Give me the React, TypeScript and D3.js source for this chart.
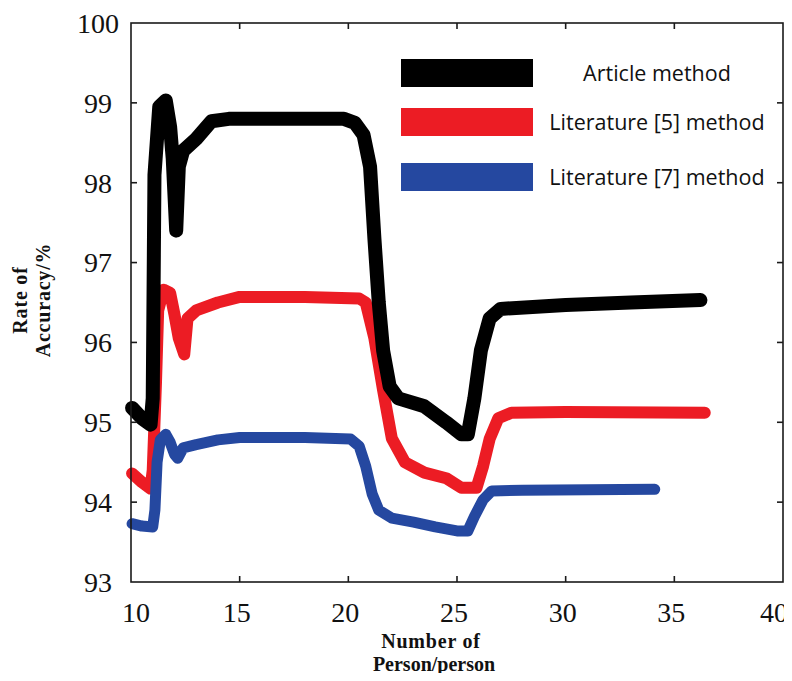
import React, { useEffect, useRef } from "react";
import * as d3 from "d3";

// values: [number of persons, accuracy %]
const articleMethod: [number, number][] = [
  [10.05, 95.18], [10.5, 95.05], [10.9, 94.97], [11.0, 95.3], [11.08, 98.1],
  [11.3, 98.95], [11.6, 99.03], [11.8, 98.7], [11.92, 98.3], [12.08, 97.4],
  [12.2, 98.2], [12.4, 98.4], [13.0, 98.55], [13.7, 98.77], [14.5, 98.8],
  [17.0, 98.8], [19.8, 98.8], [20.3, 98.75], [20.7, 98.6], [21.0, 98.2],
  [21.2, 97.3], [21.4, 96.5], [21.6, 95.9], [21.9, 95.45], [22.3, 95.3],
  [23.5, 95.2], [24.5, 95.0], [25.2, 94.85], [25.5, 94.85], [25.8, 95.3],
  [26.1, 95.9], [26.5, 96.3], [27.0, 96.42], [30.0, 96.47], [33.0, 96.5],
  [36.2, 96.53],
];

const literature5Method: [number, number][] = [
  [10.05, 94.36], [10.5, 94.25], [10.9, 94.17], [11.0, 94.4], [11.15, 95.5],
  [11.25, 96.4], [11.5, 96.66], [11.8, 96.62], [12.0, 96.35], [12.2, 96.05],
  [12.45, 95.85], [12.6, 96.3], [13.0, 96.4], [14.0, 96.5], [15.0, 96.57],
  [18.0, 96.57], [20.5, 96.55], [20.8, 96.5], [21.2, 96.05], [21.6, 95.4],
  [22.0, 94.8], [22.6, 94.5], [23.5, 94.37], [24.5, 94.3], [25.2, 94.18],
  [25.9, 94.18], [26.2, 94.45], [26.5, 94.79], [26.9, 95.05], [27.5, 95.12],
  [30.0, 95.13], [36.4, 95.12],
];

const literature7Method: [number, number][] = [
  [10.05, 93.73], [10.5, 93.7], [11.0, 93.69], [11.1, 93.9], [11.2, 94.5],
  [11.35, 94.78], [11.6, 94.85], [11.8, 94.75], [12.0, 94.6], [12.15, 94.55],
  [12.4, 94.68], [13.0, 94.72], [14.0, 94.78], [15.0, 94.81], [18.0, 94.81],
  [20.1, 94.79], [20.5, 94.7], [20.8, 94.45], [21.1, 94.1], [21.4, 93.9],
  [22.0, 93.8], [23.0, 93.75], [24.0, 93.69], [25.0, 93.64], [25.5, 93.64],
  [25.8, 93.82], [26.2, 94.03], [26.6, 94.14], [28.0, 94.15], [34.1, 94.16],
];

const seriesNames = ["Article method", "Literature [5] method", "Literature [7] method"];
const seriesColors = ["#000000", "#ec1c24", "#2548a0"];
const xTicks = [10, 15, 20, 25, 30, 35, 40];
const yTicks = [93, 94, 95, 96, 97, 98, 99, 100];

function AccuracyChart() {
  const svgRef = useRef<SVGSVGElement | null>(null);

  useEffect(() => {
    const left = 131, right = 783, top = 23, bottom = 582;
    const svg = d3.select(svgRef.current);
    svg.selectAll("*").remove();

    const xScale = d3.scaleLinear().domain([10, 40]).range([left, right]);
    const yScale = d3.scaleLinear().domain([93, 100]).range([bottom, top]);

    const line = d3.line<[number, number]>()
      .x(d => xScale(d[0]))
      .y(d => yScale(d[1]));

    // drawn so the black curve ends on top
    const layers = [
      { data: literature5Method, color: seriesColors[1], w: 12 },
      { data: literature7Method, color: seriesColors[2], w: 11 },
      { data: articleMethod, color: seriesColors[0], w: 14 },
    ];
    layers.forEach(l => {
      svg.append("path")
        .attr("d", line(l.data))
        .attr("fill", "none")
        .attr("stroke", l.color)
        .attr("stroke-width", l.w)
        .attr("stroke-linejoin", "round")
        .attr("stroke-linecap", "round");
    });

    // box with inward ticks
    const frame = svg.append("g").attr("stroke", "#1a1a1a").attr("stroke-width", 1.6).attr("fill", "none");
    frame.append("rect").attr("x", left).attr("y", top).attr("width", right - left).attr("height", bottom - top);
    xTicks.slice(1, -1).forEach(t => {
      frame.append("line").attr("x1", xScale(t)).attr("x2", xScale(t)).attr("y1", bottom).attr("y2", bottom - 6);
      frame.append("line").attr("x1", xScale(t)).attr("x2", xScale(t)).attr("y1", top).attr("y2", top + 6);
    });
    yTicks.slice(1, -1).forEach(t => {
      frame.append("line").attr("x1", left).attr("x2", left + 6).attr("y1", yScale(t)).attr("y2", yScale(t));
      frame.append("line").attr("x1", right).attr("x2", right - 6).attr("y1", yScale(t)).attr("y2", yScale(t));
    });

    const serif = "'Liberation Serif', 'Times New Roman', serif";
    svg.append("g").selectAll("text").data(yTicks).enter().append("text")
      .attr("x", 98).attr("y", d => yScale(d)).attr("dy", "0.35em")
      .attr("text-anchor", "middle").attr("font-family", serif).attr("font-size", 28).attr("fill", "#111")
      .text(d => d);
    svg.append("g").selectAll("text").data(xTicks).enter().append("text")
      .attr("x", d => xScale(d) + (d === 10 ? 5 : d === 40 ? -9 : -3)).attr("y", 622)
      .attr("text-anchor", "middle").attr("font-family", serif).attr("font-size", 28).attr("fill", "#111")
      .text(d => d);

    // axis titles
    const xTitle = svg.append("text").attr("text-anchor", "middle").attr("font-family", serif)
      .attr("font-weight", "bold").attr("font-size", 20).attr("fill", "#111");
    xTitle.append("tspan").attr("x", 431).attr("y", 648).attr("letter-spacing", 0.8).text("Number of");
    xTitle.append("tspan").attr("x", 434).attr("y", 671).text("Person/person");

    const yTitle = svg.append("text").attr("transform", "translate(0,300) rotate(-90)")
      .attr("text-anchor", "middle").attr("font-family", serif)
      .attr("font-weight", "bold").attr("font-size", 20).attr("fill", "#111");
    yTitle.append("tspan").attr("x", 0).attr("y", 27).attr("letter-spacing", 0.8).text("Rate of");
    yTitle.append("tspan").attr("x", 0).attr("y", 50).attr("letter-spacing", 0.8).text("Accuracy/%");

    // legend
    const legendY = [59, 108, 163];
    const legend = svg.append("g");
    seriesNames.forEach((name, i) => {
      legend.append("rect").attr("x", 401).attr("y", legendY[i]).attr("width", 132).attr("height", 28)
        .attr("fill", seriesColors[i]);
      legend.append("text").attr("x", 657).attr("y", legendY[i] + 22)
        .attr("text-anchor", "middle").attr("font-family", "'Open Sans', sans-serif")
        .attr("font-size", 21.5).attr("fill", "#111").text(name);
    });
  }, []);

  return <svg ref={svgRef} width={792} height={681} style={{ display: "block" }} />;
}

export default function App() {
  return (
    <div style={{ margin: -8, background: "#fff" }}>
      <AccuracyChart />
    </div>
  );
}
